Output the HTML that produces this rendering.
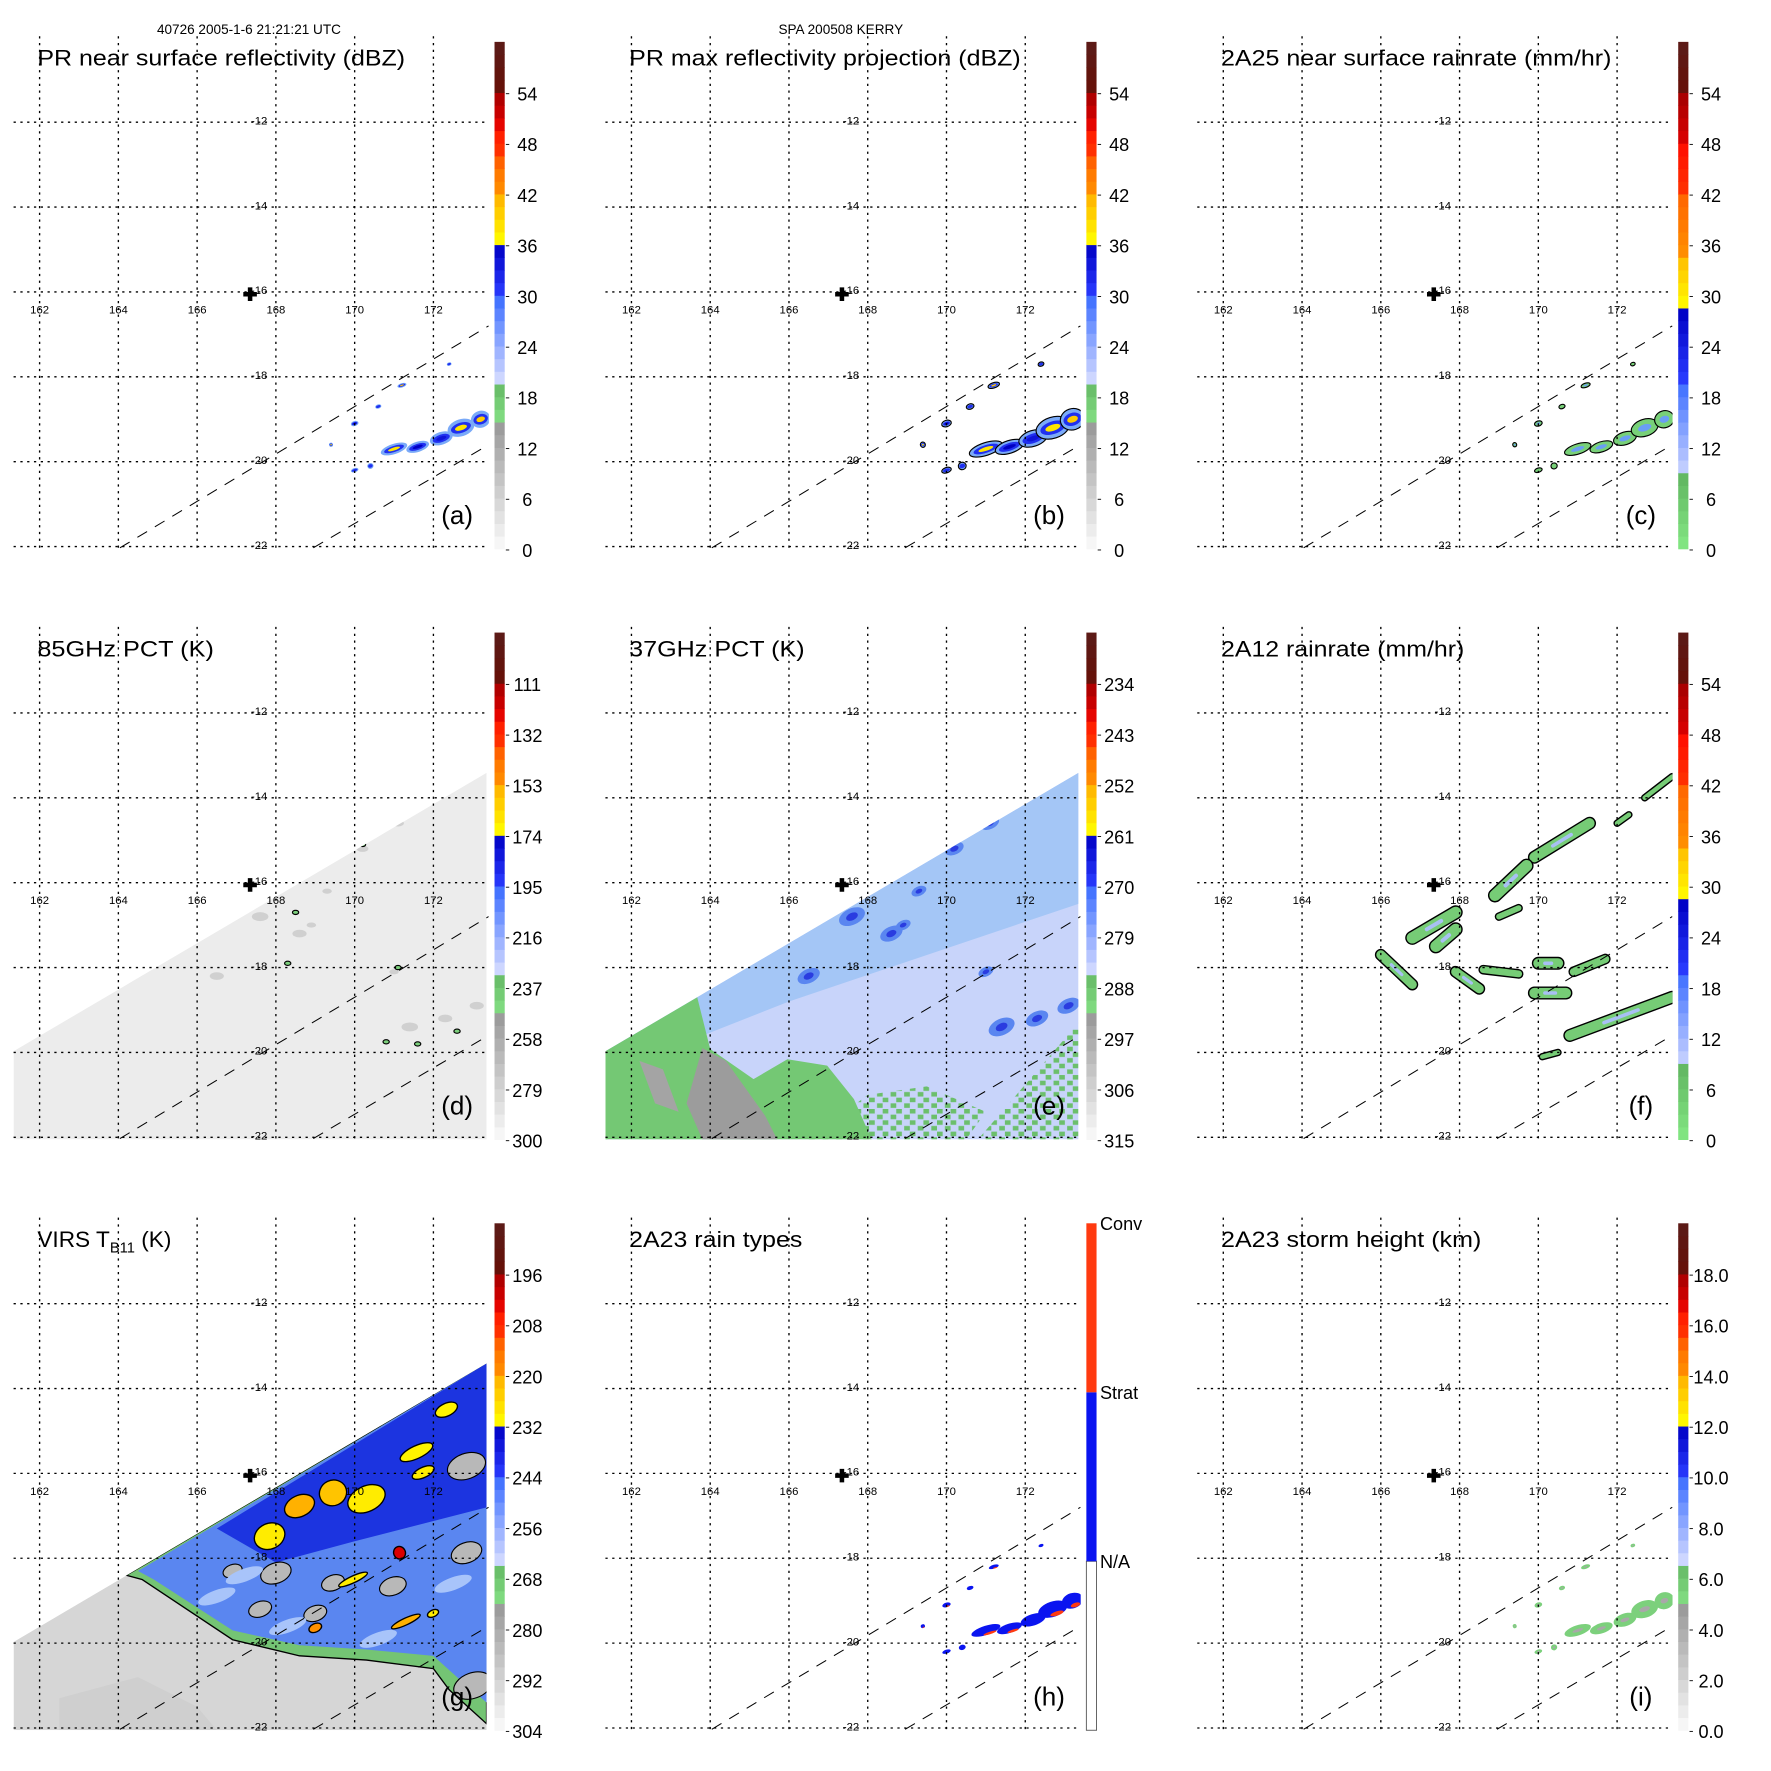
<!DOCTYPE html>
<html><head><meta charset="utf-8">
<style>
html,body{margin:0;padding:0;background:#fff;}
svg{display:block;font-family:"Liberation Sans",sans-serif;}
</style></head>
<body>
<svg id="fig" xmlns="http://www.w3.org/2000/svg" width="1771" height="1771" viewBox="0 0 1565 1565">
<defs>
<pattern id="speck" width="12" height="10" patternUnits="userSpaceOnUse">
<rect x="0" y="0" width="5" height="4" fill="#6cbf6c"/><rect x="7" y="5" width="5" height="4" fill="#6cbf6c"/>
</pattern>
</defs>
<text x="220" y="30" font-size="12" text-anchor="middle">40726 2005-1-6 21:21:21 UTC</text>
<text x="743" y="30" font-size="12" text-anchor="middle">SPA 200508 KERRY</text>
</svg>
<script>
// ---------- data ----------
const lonTicks = [162,164,166,168,170,172];
const latTicks = [-12,-14,-16,-18,-20,-22];
// PR-swath precipitation cells
const prLon = [171.0,171.6,172.2,172.7,173.2,170.0,171.2,172.4,170.0,170.4,170.6,169.4];
const prLat = [-19.7,-19.65,-19.45,-19.2,-19.0,-19.1,-18.2,-17.7,-20.2,-20.1,-18.7,-19.6];
const prRx  = [0.35,0.3,0.3,0.35,0.25,0.1,0.12,0.06,0.1,0.08,0.08,0.05];
const prRy  = [0.12,0.12,0.15,0.2,0.2,0.06,0.05,0.04,0.05,0.07,0.05,0.05];
const prDbz = [38,36,34,38,40,36,40,28,28,28,22,38];
// 2A12 rain areas (segments)
const tmiLon1 = [169.9,168.9,166.8,167.4,166.0,167.9,168.6,170.0,170.9,169.9,170.8,170.1,172.7,172.0,169.0];
const tmiLat1 = [-15.4,-16.3,-17.3,-17.5,-17.7,-18.1,-18.05,-17.9,-18.1,-18.6,-19.6,-20.1,-14.0,-14.6,-16.8];
const tmiLon2 = [171.3,169.7,167.9,167.9,166.8,168.5,169.5,170.5,171.7,170.7,173.4,170.5,173.4,172.3,169.5];
const tmiLat2 = [-14.6,-15.6,-16.7,-17.1,-18.4,-18.5,-18.15,-17.9,-17.8,-18.6,-18.7,-20.0,-13.5,-14.4,-16.6];
const tmiWid  = [9,10,10,10,8,8,6,9,7,9,9,4,4,4,5];
// 37GHz deep-blue scattering cells
const pctLon = [167.6,168.6,166.5,170.2,171.1,169.3,171.0,171.4,172.3,173.1,168.9];
const pctLat = [-16.8,-17.2,-18.2,-15.2,-14.6,-16.2,-18.1,-19.4,-19.2,-18.9,-17.0];
const pctR   = [0.35,0.3,0.3,0.25,0.25,0.2,0.2,0.35,0.3,0.3,0.2];
// VIRS cold tops
const irLon = [167.84,168.6,169.45,170.3,171.57,171.74,172.33,171.14,169.96,171.3,169.0,171.99];
const irLat = [-17.48,-16.77,-16.46,-16.6,-15.5,-15.98,-14.5,-17.87,-18.5,-19.49,-19.64,-19.3];
const irRx  = [0.4,0.4,0.35,0.5,0.45,0.3,0.3,0.15,0.4,0.4,0.17,0.15];
const irRy  = [0.3,0.25,0.3,0.3,0.15,0.12,0.15,0.15,0.08,0.08,0.1,0.08];
const irTb  = [229,221,223,229,230,229,230,203,229,221,220,229];
const graySpotLon = [168.0,169.45,170.97,172.84,172.84,169.0,173.0,166.9,167.6];
const graySpotLat = [-18.35,-18.58,-18.66,-15.83,-17.87,-19.3,-21.0,-18.3,-19.2];
const graySpotR = [0.4,0.3,0.35,0.5,0.4,0.3,0.5,0.25,0.3];
// colorbar labels
const lblDbz = ['0','6','12','18','24','30','36','42','48','54'];
const lblRain = ['0','6','12','18','24','30','36','42','48','54'];
const lbl85 = ['300','279','258','237','216','195','174','153','132','111'];
const lbl37 = ['315','306','297','288','279','270','261','252','243','234'];
const lblIR = ['304','292','280','268','256','244','232','220','208','196'];
const lblH = ['0.0','2.0','4.0','6.0','8.0','10.0','12.0','14.0','16.0','18.0'];
const typeLabels = ['N/A','Strat','Conv'];

const NS='http://www.w3.org/2000/svg';
const svg=document.getElementById('fig');
function mk(tag,attrs,parent){const e=document.createElementNS(NS,tag);for(const k in attrs)e.setAttribute(k,attrs[k]);(parent||svg).appendChild(e);return e;}

function hex(c){return [parseInt(c.substr(1,2),16),parseInt(c.substr(3,2),16),parseInt(c.substr(5,2),16)];}
function interp(stops,t){
  if(t<=stops[0][0])return stops[0][1];
  for(let i=1;i<stops.length;i++){if(t<=stops[i][0]){const a=stops[i-1],b=stops[i];const f=(t-a[0])/Math.max(1e-6,b[0]-a[0]);const A=hex(a[1]),B=hex(b[1]);return 'rgb('+A.map((v,j)=>Math.round(v+(B[j]-v)*f)).join(',')+')';}}
  return stops[stops.length-1][1];
}
const STD=[[0,'#fbfbfb'],[0.245,'#999999'],[0.25,'#84e084'],[0.333,'#62b462'],[0.334,'#d0d8ff'],[0.5,'#3a6cff'],[0.501,'#2a3cff'],[0.6,'#0000c4'],[0.601,'#ffff00'],[0.69,'#ffb800'],[0.7,'#ff9000'],[0.76,'#ff6e00'],[0.77,'#ff3c00'],[0.83,'#ff1400'],[0.84,'#dc0000'],[0.905,'#a00000'],[0.906,'#661008'],[1,'#5a1c18']];
const RAIN=[[0,'#84e884'],[0.14,'#62b862'],[0.141,'#d0d8ff'],[0.33,'#3a6cff'],[0.331,'#2a3cff'],[0.47,'#0000c4'],[0.471,'#ffff00'],[0.57,'#ffc000'],[0.58,'#ff9000'],[0.7,'#ff6400'],[0.71,'#ff3000'],[0.79,'#ff1000'],[0.8,'#dc0000'],[0.905,'#a00000'],[0.906,'#661008'],[1,'#5a1c18']];

const panels=[
 {id:'a',ox:0,oy:0,title:'PR near surface reflectivity (dBZ)',tw:325,pal:STD,lbl:lblDbz},
 {id:'b',ox:523,oy:0,title:'PR max reflectivity projection (dBZ)',tw:346,pal:STD,lbl:lblDbz},
 {id:'c',ox:1046,oy:0,title:'2A25 near surface rainrate (mm/hr)',tw:345,pal:RAIN,lbl:lblRain},
 {id:'d',ox:0,oy:522,title:'85GHz PCT (K)',tw:156,pal:STD,lbl:lbl85},
 {id:'e',ox:523,oy:522,title:'37GHz PCT (K)',tw:155,pal:STD,lbl:lbl37},
 {id:'f',ox:1046,oy:522,title:'2A12 rainrate (mm/hr)',tw:215,pal:RAIN,lbl:lblRain},
 {id:'g',ox:0,oy:1044,title:null,tw:0,pal:STD,lbl:lblIR},
 {id:'h',ox:523,oy:1044,title:'2A23 rain types',tw:153,pal:null,lbl:null},
 {id:'i',ox:1046,oy:1044,title:'2A23 storm height (km)',tw:230,pal:STD,lbl:lblH}
];
function X(p,lon){return p.ox+35+(lon-162)*34.8;}
function Y(p,lat){return p.oy+108+(-12-lat)*37.5;}
function dbzColor(v){return interp(STD,v/60);}

function ell(p,g,lon,lat,rx,ry,fill,stroke,sw,rot){
  const cx=X(p,lon),cy=Y(p,lat);
  const e=mk('ellipse',{cx:cx,cy:cy,rx:rx*34.8,ry:ry*37.5,fill:fill,stroke:stroke||'none','stroke-width':sw||0,transform:'rotate('+(rot||0)+' '+cx+' '+cy+')'},g);
  return e;
}
function seg(p,g,l1,a1,l2,a2,w,col){
  return mk('line',{x1:X(p,l1),y1:Y(p,a1),x2:X(p,l2),y2:Y(p,a2),stroke:col,'stroke-width':w,'stroke-linecap':'round'},g);
}
function swathPts(p){return [[161.34,-19.97],[173.35,-13.41],[173.35,-22.05],[161.34,-22.05]].map(q=>X(p,q[0])+','+Y(p,q[1])).join(' ');}
function polyLL(p,g,pts,fill,stroke,sw){return mk('polygon',{points:pts.map(q=>X(p,q[0])+','+Y(p,q[1])).join(' '),fill:fill,stroke:stroke||'none','stroke-width':sw||0},g);}

panels.forEach(p=>{
  const grp=mk('g',{});
  
  
  const cp=mk('clipPath',{id:'clip'+p.id},grp);
  mk('rect',{x:p.ox+12,y:p.oy+30,width:420,height:455},cp);
  const data=mk('g',{'clip-path':'url(#clip'+p.id+')'},grp);
  
  

  if(p.id==='d'||p.id==='e'||p.id==='g'){
    const cps=mk('clipPath',{id:'sw'+p.id},grp);
    mk('polygon',{points:swathPts(p)},cps);
    const sg=mk('g',{'clip-path':'url(#sw'+p.id+')'},data);
    
    
    if(p.id==='d'){
      mk('polygon',{points:swathPts(p),fill:'#ececec'},sg);
      for(let i=0;i<pctLon.length;i++){ell(p,sg,pctLon[i],pctLat[i],pctR[i]*0.6,pctR[i]*0.3,'#d0d0d0');}
      [[171.1,-18.0],[170.8,-19.75],[171.6,-19.8],[172.6,-19.5],[168.3,-17.9],[168.5,-16.7],[170.2,-15.1]].forEach(q=>{
        const e=ell(p,sg,q[0],q[1],0.08,0.05,'#7ccf7c','#000',1);
        
        
      });
    }
    if(p.id==='e'){
      mk('polygon',{points:swathPts(p),fill:'#c8d4fa'},sg);
      polyLL(p,sg,[[161.34,-19.97],[173.35,-13.41],[173.35,-16.5],[166,-18.8],[163,-19.9]],'#a4c6f6');
      for(let i=0;i<pctLon.length;i++){
        const e=ell(p,sg,pctLon[i],pctLat[i],pctR[i],pctR[i]*0.55,'#5a86f0',null,0,-25);
        
        
        ell(p,sg,pctLon[i],pctLat[i],pctR[i]*0.45,pctR[i]*0.25,'#2a3ce0',null,0,-25);
      }
      polyLL(p,sg,[[170.8,-22.05],[173.35,-19.3],[173.35,-22.05]],'url(#speck)');
      polyLL(p,sg,[[166.5,-22.05],[168,-21],[169.5,-20.8],[171,-21.4],[170.5,-22.05]],'url(#speck)');
      const land=polyLL(p,sg,[[161.34,-19.97],[163.67,-18.7],[164.0,-19.92],[165.1,-20.63],[165.96,-20.16],[166.97,-20.31],[167.65,-21.1],[168.1,-22.05],[161.34,-22.05]],'#74c874');
      
      
      polyLL(p,sg,[[163.8,-19.9],[164.4,-20.2],[165.4,-21.5],[165.7,-22.05],[163.8,-22.05],[163.4,-21.2]],'#9c9c9c');
      polyLL(p,sg,[[162.2,-20.2],[162.8,-20.4],[163.2,-21.4],[162.6,-21.2]],'#a4a4a4');
    }
    if(p.id==='g'){
      mk('polygon',{points:swathPts(p),fill:'#d6d6d6'},sg);
      polyLL(p,sg,[[162.5,-21.3],[164.5,-20.8],[166,-21.5],[166.5,-22.05],[162.5,-22.05]],'#cfcfcf');
      const bnd=[[164.6,-18.5],[166.9,-19.92],[168.6,-20.3],[170.3,-20.4],[172.0,-20.6],[172.4,-21.1],[173.35,-21.9],[173.35,-13.41],[164.2,-18.4]];
      polyLL(p,sg,bnd,'#74c474','#000',1.2);
      polyLL(p,sg,[[164.9,-18.5],[166.9,-19.7],[168.6,-20.05],[170.3,-20.15],[172.0,-20.3],[172.6,-20.8],[173.35,-21.4],[173.35,-13.41],[164.5,-18.3]],'#5a86f0');
      polyLL(p,sg,[[166.5,-17.3],[173.35,-13.41],[173.35,-16.8],[170,-17.6],[168,-18.1]],'#1c34e0');
      for(let i=0;i<graySpotLon.length;i++){
        const e=ell(p,sg,graySpotLon[i],graySpotLat[i],graySpotR[i],graySpotR[i]*0.6,'#b8b8b8','#000',1,-20);
        
        
      }
      [[166.5,-18.9],[168.3,-19.6],[170.6,-19.9],[172.5,-18.6],[167.2,-18.4]].forEach(q=>ell(p,sg,q[0],q[1],0.5,0.15,'#a8c4fa',null,0,-20));
      for(let i=0;i<irLon.length;i++){
        const t=(304-irTb[i])/120;
        const e=ell(p,sg,irLon[i],irLat[i],irRx[i],irRy[i],interp(STD,t),'#000',1.2,-25);
        
        
      }
    }
  }
  if(p.id==='f'){
    for(let i=0;i<tmiLon1.length;i++){
      const b=seg(p,data,tmiLon1[i],tmiLat1[i],tmiLon2[i],tmiLat2[i],tmiWid[i]+2.5,'#000');
      
      
      const e=seg(p,data,tmiLon1[i],tmiLat1[i],tmiLon2[i],tmiLat2[i],tmiWid[i],'#76cc76');
      
      
      if(tmiWid[i]>=8)seg(p,data,(tmiLon1[i]*2+tmiLon2[i])/3,(tmiLat1[i]*2+tmiLat2[i])/3,(tmiLon1[i]+tmiLon2[i]*2)/3,(tmiLat1[i]+tmiLat2[i]*2)/3,tmiWid[i]*0.35,'#a8c0f4');
    }
  }
  if(['a','b','c','h','i'].includes(p.id)){
    for(let i=0;i<prLon.length;i++){
      const k=p.id==='b'?1.25:1;
      let e;
      if(p.id==='a'||p.id==='b'){
        e=ell(p,data,prLon[i],prLat[i],prRx[i]*k,prRy[i]*k,'#7aaaf8',p.id==='b'?'#000':'none',1,-18);
        ell(p,data,prLon[i],prLat[i],prRx[i]*0.75*k,prRy[i]*0.6*k,'#2030f0',null,0,-18);
        if(prDbz[i]>=34)ell(p,data,prLon[i],prLat[i],prRx[i]*0.45*k,prRy[i]*0.3*k,dbzColor(prDbz[i]),null,0,-18);
      } else if(p.id==='c'){
        e=ell(p,data,prLon[i],prLat[i],prRx[i],prRy[i],'#78d078','#000',1,-18);
        if(prDbz[i]>=34)ell(p,data,prLon[i],prLat[i],prRx[i]*0.5,prRy[i]*0.4,'#6a9ef4',null,0,-18);
      } else if(p.id==='h'){
        e=ell(p,data,prLon[i],prLat[i],prRx[i]*1.1,prRy[i]*0.9,'#0a14f0',null,0,-18);
        if(prDbz[i]>=36)ell(p,data,prLon[i]+prRx[i]*0.3,prLat[i]-prRy[i]*0.5,prRx[i]*0.5,prRy[i]*0.25,'#ff3a10',null,0,-18);
      } else {
        e=ell(p,data,prLon[i],prLat[i],prRx[i],prRy[i],'#7cd07c',null,0,-18);
        ell(p,data,prLon[i],prLat[i],prRx[i]*0.4,prRy[i]*0.3,'#a8a8a8',null,0,-18);
      }
      
      
    }
  }

  [[164.04,-22.03,173.4,-16.8],[168.95,-22.03,173.4,-19.6]].forEach((L,j)=>{
    const l=mk('line',{x1:X(p,L[0]),y1:Y(p,L[1]),x2:X(p,L[2]),y2:Y(p,L[3]),stroke:'#000','stroke-width':0.9,'stroke-dasharray':'10,8'},grp);
    
    
  });
  lonTicks.forEach(lon=>{
    const l=mk('line',{x1:X(p,lon),y1:p.oy+32,x2:X(p,lon),y2:p.oy+486,stroke:'#000','stroke-width':1.2,'stroke-dasharray':'2,4'},grp);
    
    
    const t=mk('text',{x:X(p,lon),y:p.oy+277,'font-size':10,'text-anchor':'middle'},grp);
    t.textContent=String(lon);
    
    
  });
  latTicks.forEach(lat=>{
    const l=mk('line',{x1:p.ox+12,y1:Y(p,lat),x2:p.ox+432,y2:Y(p,lat),stroke:'#000','stroke-width':1.2,'stroke-dasharray':'2,4'},grp);
    
    
    const t=mk('text',{x:p.ox+229,y:Y(p,lat)+2,'font-size':10,'text-anchor':'middle'},grp);
    t.textContent=String(lat);
    
    
  });
  const cx=p.ox+221,cy=p.oy+260;
  const cr=mk('path',{d:'M'+(cx-6)+' '+(cy-2)+'h4v-4h4v4h4v4h-4v4h-4v-4h-4z',fill:'#000'},grp);
  
  
  if(p.title){
    const t=mk('text',{x:p.ox+33,y:p.oy+58,'font-size':20,textLength:p.tw,lengthAdjust:'spacingAndGlyphs'},grp);
    t.textContent=p.title;
    
    
  } else {
    const t=mk('text',{x:p.ox+33,y:p.oy+58,'font-size':20},grp);
    
    
    t.appendChild(document.createTextNode('VIRS T'));
    const s=mk('tspan',{'font-size':13,dy:5},t);s.textContent='B11';
    const s2=mk('tspan',{dy:-5},t);s2.textContent=' (K)';
  }
  const lt=mk('text',{x:p.ox+404,y:p.oy+463,'font-size':23,'text-anchor':'middle'},grp);
  lt.textContent='('+p.id+')';
  
  
  const cb=mk('g',{},grp);
  
  
  const bx=p.ox+437,top=p.oy+37,bot=p.oy+485,H=bot-top;
  if(p.pal){
    const N=40;
    for(let i=0;i<N;i++){
      mk('rect',{x:bx,y:bot-(i+1)*H/N,width:9,height:H/N+0.4,fill:interp(p.pal,(i+0.5)/N)},cb);
    }
    p.lbl.forEach((s,i)=>{
      const yy=bot-i*H/10+2;
      mk('line',{x1:bx+10,y1:yy-1,x2:bx+13,y2:yy-1,stroke:'#000','stroke-width':0.8},cb);
      const t=mk('text',{x:bx+29,y:yy+5,'font-size':16,'text-anchor':'middle'},cb);
      t.textContent=s;
      
      
    });
  } else {
    const cols=['#ffffff','#0a14f0','#ff3a10'];
    for(let i=0;i<3;i++){
      mk('rect',{x:bx,y:top+(2-i)*H/3,width:9,height:H/3,fill:cols[i],stroke:i===0?'#555':'none','stroke-width':0.8},cb);
      const t=mk('text',{x:bx+12,y:top+(2-i)*H/3+6,'font-size':16},cb);
      t.textContent=typeLabels[i];
      
      
    }
  }
});
</script>
</body></html>
